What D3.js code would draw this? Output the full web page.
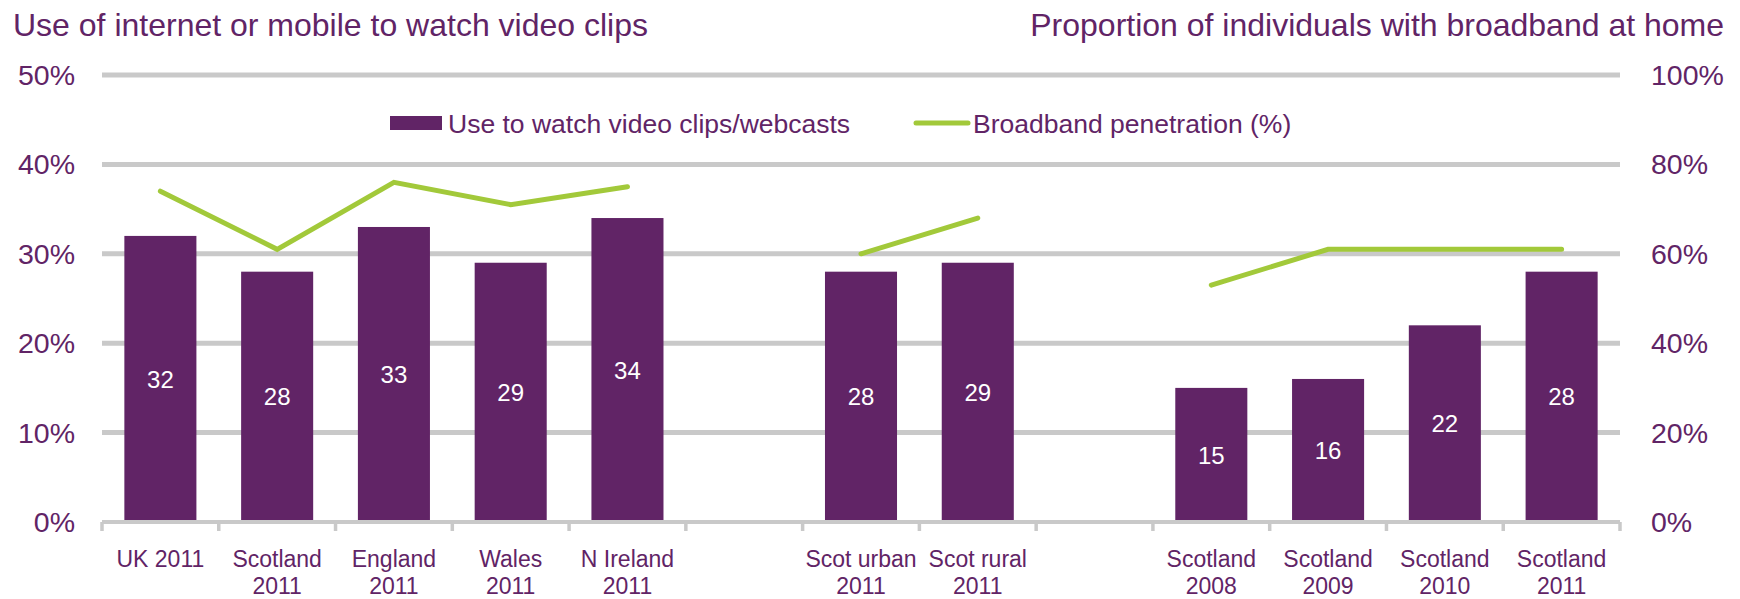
<!DOCTYPE html>
<html>
<head>
<meta charset="utf-8">
<script src="https://cdn.jsdelivr.net/npm/d3@7"></script>
<style>
  html, body { margin: 0; padding: 0; background: #ffffff; }
  svg { display: block; }
  text { font-family: "Liberation Sans", Arial, sans-serif; }
</style>
</head>
<body>
<svg id="chart" width="1740" height="599"></svg>
<script>
// ---- data ----
const categoryLabels = [
  ["UK 2011"], ["Scotland", "2011"], ["England", "2011"], ["Wales", "2011"], ["N Ireland", "2011"],
  [],
  ["Scot urban", "2011"], ["Scot rural", "2011"],
  [],
  ["Scotland", "2008"], ["Scotland", "2009"], ["Scotland", "2010"], ["Scotland", "2011"]
];
const videoClips = [32, 28, 33, 29, 34, null, 28, 29, null, 15, 16, 22, 28];
const broadband  = [74, 61, 76, 71, 75, null, 60, 68, null, 53, 61, 61, 61];
const leftTicks  = [0, 10, 20, 30, 40, 50];
const rightTicks = [0, 20, 40, 60, 80, 100];
const seriesNames = ["Use to watch video clips/webcasts", "Broadband penetration (%)"];
const leftTitle  = "Use of internet or mobile to watch video clips";
const rightTitle = "Proportion of individuals with broadband at home";

// ---- style ----
const purple = "#612466";
const green = "#a2c93a";
const grid = "#c9c9c9";

const svg = d3.select("#chart");
const x0 = 102, x1 = 1620, yTop = 75, yBase = 522;

const x = d3.scaleBand()
  .domain(d3.range(categoryLabels.length))
  .range([x0, x1])
  .paddingInner(0.383)
  .paddingOuter(0.1915);
const step = x.step();
const boundary = i => x(i) - step * x.paddingInner() / 2;

const yL = d3.scaleLinear().domain([0, 50]).range([yBase, yTop]);
const yR = d3.scaleLinear().domain([0, 100]).range([yBase, yTop]);

// titles
svg.append("text").attr("x", 13).attr("y", 36)
  .attr("font-size", 32).attr("fill", purple).text(leftTitle);
svg.append("text").attr("x", 1724).attr("y", 36).attr("text-anchor", "end")
  .attr("font-size", 32).attr("fill", purple).text(rightTitle);

// gridlines
svg.append("g").selectAll("line")
  .data(leftTicks.filter(d => d > 0))
  .join("line")
  .attr("x1", x0).attr("x2", x1)
  .attr("y1", d => yL(d)).attr("y2", d => yL(d))
  .attr("stroke", grid).attr("stroke-width", 5);

// left axis
const axL = svg.append("g").attr("transform", `translate(${x0 - 27},0)`)
  .call(d3.axisLeft(yL).tickValues(leftTicks).tickSize(0).tickPadding(0).tickFormat(d => d + "%"));
axL.select(".domain").remove();
axL.selectAll("text").attr("font-size", 28.5).attr("fill", purple)
  .attr("font-family", "Liberation Sans, Arial, sans-serif").attr("dy", "0.33em");

// right axis
const axR = svg.append("g").attr("transform", `translate(${x1 + 31},0)`)
  .call(d3.axisRight(yR).tickValues(rightTicks).tickSize(0).tickPadding(0).tickFormat(d => d + "%"));
axR.select(".domain").remove();
axR.selectAll("text").attr("font-size", 28.5).attr("fill", purple)
  .attr("font-family", "Liberation Sans, Arial, sans-serif").attr("dy", "0.33em");

// bars
const barData = videoClips.map((v, i) => ({ i, v })).filter(d => d.v != null);
svg.append("g").selectAll("rect")
  .data(barData)
  .join("rect")
  .attr("x", d => x(d.i))
  .attr("width", x.bandwidth())
  .attr("y", d => yL(d.v))
  .attr("height", d => yL(0) - yL(d.v))
  .attr("fill", purple);

// bar labels
svg.append("g").selectAll("text")
  .data(barData)
  .join("text")
  .attr("x", d => x(d.i) + x.bandwidth() / 2)
  .attr("y", d => (yL(d.v) + yL(0)) / 2)
  .attr("dy", "0.36em")
  .attr("text-anchor", "middle")
  .attr("font-size", 24)
  .attr("fill", "#ffffff")
  .text(d => d.v);

// x axis line + ticks
svg.append("line")
  .attr("x1", x0).attr("x2", x1).attr("y1", yBase).attr("y2", yBase)
  .attr("stroke", grid).attr("stroke-width", 4);
const bounds = d3.range(categoryLabels.length).map(boundary).concat([x1]);
svg.append("g").selectAll("line")
  .data(bounds)
  .join("line")
  .attr("x1", d => d).attr("x2", d => d)
  .attr("y1", yBase).attr("y2", yBase + 9)
  .attr("stroke", grid).attr("stroke-width", 3.5);

// x labels
const xl = svg.append("g").selectAll("text")
  .data(categoryLabels.map((l, i) => ({ l, i })))
  .join("text")
  .attr("text-anchor", "middle")
  .attr("font-size", 23)
  .attr("fill", purple);
xl.selectAll("tspan")
  .data(d => d.l.map((t, k) => ({ t, k, i: d.i })))
  .join("tspan")
  .attr("x", d => x(d.i) + x.bandwidth() / 2)
  .attr("y", d => 567 + d.k * 27)
  .text(d => d.t);

// line (broadband)
const line = d3.line()
  .defined(d => d != null)
  .x((d, i) => x(i) + x.bandwidth() / 2)
  .y(d => yR(d));
svg.append("path")
  .datum(broadband)
  .attr("d", line)
  .attr("fill", "none")
  .attr("stroke", green)
  .attr("stroke-width", 5)
  .attr("stroke-linecap", "round")
  .attr("stroke-linejoin", "miter");

// legend
const lg = svg.append("g");
lg.append("rect").attr("x", 390).attr("y", 116).attr("width", 52).attr("height", 14).attr("fill", purple);
lg.append("text").attr("x", 448).attr("y", 133).attr("font-size", 26.5).attr("fill", purple).text(seriesNames[0]);
lg.append("line").attr("x1", 916).attr("x2", 968).attr("y1", 123).attr("y2", 123)
  .attr("stroke", green).attr("stroke-width", 5).attr("stroke-linecap", "round");
lg.append("text").attr("x", 973).attr("y", 133).attr("font-size", 26.5).attr("fill", purple).text(seriesNames[1]);
</script>
</body>
</html>
